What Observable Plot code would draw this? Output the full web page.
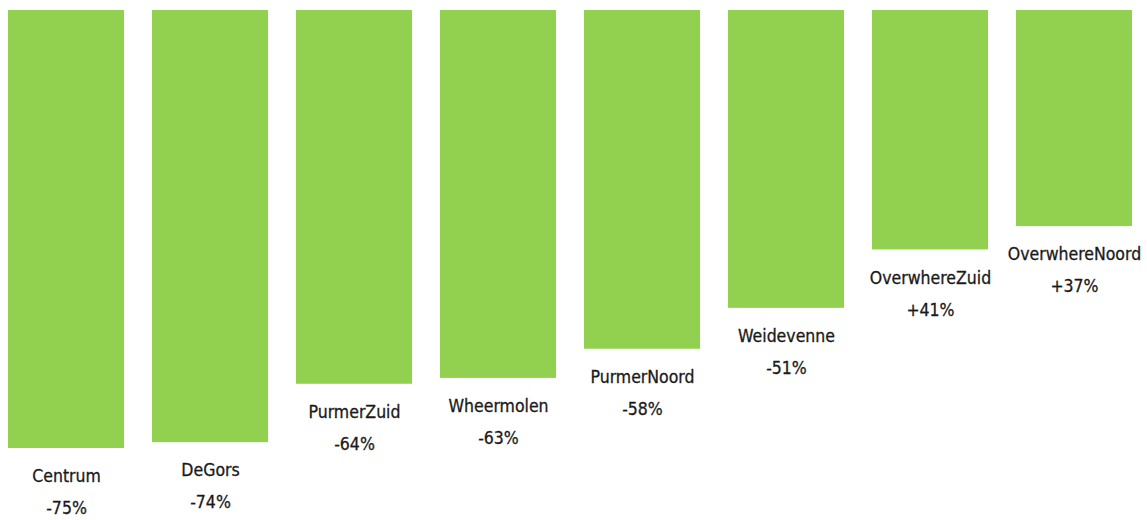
<!DOCTYPE html>
<html><head><meta charset="utf-8">
<script src="https://cdn.jsdelivr.net/npm/d3@7"></script>
<script src="https://cdn.jsdelivr.net/npm/@observablehq/plot@0.6"></script>
<style>body{margin:0;background:#fff}</style>
</head><body><div id="chart"></div>
<script>
const districts = ["Centrum","DeGors","PurmerZuid","Wheermolen","PurmerNoord","Weidevenne","OverwhereZuid","OverwhereNoord"];
const changes = [-75,-74,-64,-63,-58,-51,41,37];
const data = districts.map((d,i)=>({name:d, value:changes[i], abs:Math.abs(changes[i]), label:(changes[i]>0?"+":"")+changes[i]+"%"}));
const font = "'DejaVu Sans Condensed', 'DejaVu Sans', sans-serif";
const chart = Plot.plot({
  width:1147, height:520, margin:0,
  style:{fontFamily:font, background:"#fff"},
  x:{domain:districts, range:[8,1132], paddingInner:0.194, paddingOuter:0, round:false, axis:null},
  y:{domain:[0,75], range:[10,448], axis:null},
  marks:[
    Plot.barY(data,{x:"name", y1:0, y2:"abs", fill:"#92D050"}),
    Plot.text(data,{x:"name", y:"abs", text:"name", dy:28, fontSize:17.5, fill:"#1a1a1a", stroke:"#1a1a1a", strokeWidth:0.3}),
    Plot.text(data,{x:"name", y:"abs", text:"label", dy:60, fontSize:17.5, fill:"#1a1a1a", stroke:"#1a1a1a", strokeWidth:0.3})
  ]
});
document.getElementById("chart").appendChild(chart);
</script></body></html>
